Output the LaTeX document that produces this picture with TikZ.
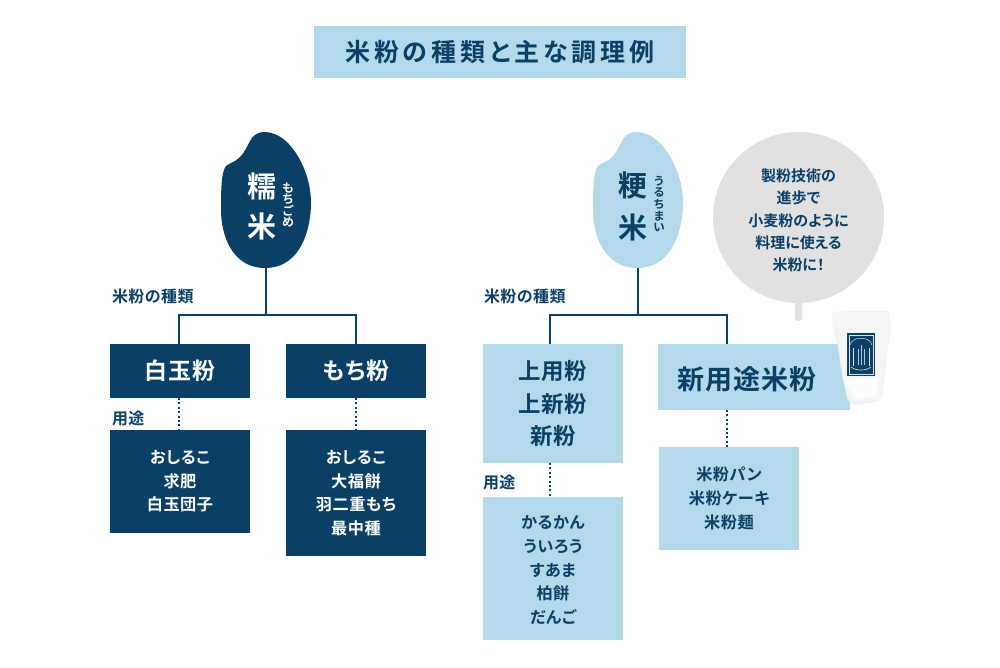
\documentclass[tikz,border=0pt]{standalone}
\usepackage{fontspec}
\setmainfont{Noto Sans CJK JP}[BoldFont=Noto Sans CJK JP Bold,RawFeature=+palt]
\newfontfamily\jpls[LetterSpace=3,RawFeature=+palt]{Noto Sans CJK JP Bold}
\newfontfamily\jpwide[LetterSpace=16,RawFeature=+palt]{Noto Sans CJK JP Bold}
\definecolor{navy}{HTML}{0B4066}
\definecolor{sky}{HTML}{B3D9EA}
\definecolor{bubble}{HTML}{E1E1E1}
\newcommand{\fs}[2]{\fontsize{#1}{#2}\selectfont}
\tikzset{
  x=1pt,y=-1pt,
  every node/.style={inner sep=0pt,outer sep=0pt,align=center},
  darkbox/.style={fill=navy,text=white,minimum width=140pt,font=\jpls},
  lightbox/.style={fill=sky,text=navy,minimum width=140pt,font=\jpls},
  label/.style={text=navy,font=\jpls\fs{16}{18}},
  treeline/.style={navy,line width=2pt},
  dotline/.style={navy,line width=2pt,dash pattern=on 2pt off 2.4pt},
  grainshape/.pic={\path[pic actions] (231,163)
     .. controls (243,158) and (246,148) .. (250,141)
     .. controls (253,135) and (258,132) .. (264,132)
     .. controls (280,132) and (292,145) .. (300,160)
     .. controls (308,175) and (311,190) .. (311,203)
     .. controls (311,225) and (303,268) .. (265,268)
     .. controls (232,268) and (221,235) .. (221,210)
     .. controls (221,195) and (221,178) .. (224,170)
     .. controls (225,166) and (228,164) .. (231,163) -- cycle;}
}
\begin{document}
\begin{tikzpicture}
\useasboundingbox (0,0) rectangle (1000,667);
% title
\node[fill=sky,text=navy,minimum width=372pt,minimum height=52pt,font=\jpwide\fs{25}{28}] (title) at (500,52) {米粉の種類と主な調理例};
% grains
\pic[fill=navy] at (0,0) {grainshape};
\pic[fill=sky] at (372,0) {grainshape};
\coordinate (mochi) at (266,268);
\coordinate (uru) at (638,268);
\node[text=white,font=\bfseries\fs{29}{40}] (mochiA) at (262,186) {糯};
\node[text=white,font=\bfseries\fs{29}{40}] (mochiB) at (262,226) {米};
\node[text=white,font=\bfseries\fs{12}{11.6}] (mochiR) at (288,205) {も\\ち\\ご\\め};
\node[text=navy,font=\bfseries\fs{29}{40}] (uruA) at (633,186) {粳};
\node[text=navy,font=\bfseries\fs{29}{40}] (uruB) at (633,227) {米};
\node[text=navy,font=\bfseries\fs{11.5}{11.6}] (uruR) at (659,204) {う\\る\\ち\\ま\\い};
% bubble
\fill[bubble,rounded corners=3pt] (795,295) rectangle (802,321);
\node[circle,fill=bubble,minimum size=171pt] (bub) at (798.5,217.5) {};
\node[text=navy,font=\bfseries\fs{15}{22.3}] (bubtext) at (798.5,220.5) {製粉技術の\\進歩で\\小麦粉のように\\料理に使える\\米粉に！};
% labels
\node[label,anchor=west] (kind1) at (112,296) {米粉の種類};
\node[label,anchor=west] (kind2) at (484,296) {米粉の種類};
\node[label,anchor=west] (use1) at (112,418) {用途};
\node[label,anchor=west] (use2) at (483,482) {用途};
% boxes
\node[darkbox,minimum height=54pt,font=\jpls\fs{23}{28}] (shira) at (180,371) {白玉粉};
\node[darkbox,minimum height=54pt,font=\jpls\fs{23}{28}] (mochiko) at (356,371) {もち粉};
\node[lightbox,minimum height=119pt,font=\jpls\fs{22.5}{32.6}] (joyo) at (553,403.5) {上用粉\\上新粉\\新粉};
\node[fill=sky,text=navy,minimum width=192pt,minimum height=66pt] (shinbox) at (754,377) {};
\node[text=navy,font=\jpls\fs{27}{30}] (shin) at (747,379) {新用途米粉};
\node[darkbox,minimum height=103pt,font=\jpls\fs{16.2}{23.6}] (u1) at (180,481.5) {おしるこ\\求肥\\白玉団子};
\node[darkbox,minimum height=126pt,font=\jpls\fs{16.2}{23.6}] (u2) at (356,493) {おしるこ\\大福餅\\羽二重もち\\最中種};
\node[lightbox,minimum height=143pt] (u3) at (553,568.5) {};
\node[text=navy,font=\jpls\fs{16.2}{23.6}] (u3text) at (553,570) {かるかん\\ういろう\\すあま\\柏餅\\だんご};
\node[lightbox,minimum height=103pt,font=\jpls\fs{16.2}{23.8}] (u4) at (729,498.5) {米粉パン\\米粉ケーキ\\米粉麺};
% connectors
\coordinate (j1) at (266,315);
\coordinate (j2) at (638,315);
\coordinate (t1) at (179,344);
\coordinate (t2) at (356,344);
\coordinate (t3) at (550,344);
\coordinate (t4) at (727,344);
\draw[treeline] (mochi) -- (j1);
\draw[treeline] (t1) -- (t1|-j1) -- (t2|-j1) -- (t2);
\draw[treeline] (uru) -- (j2);
\draw[treeline] (t3) -- (t3|-j2) -- (t4|-j2) -- (t4);
\draw[dotline] (t1|-shira.south) -- (t1|-u1.north);
\draw[dotline] (t2|-mochiko.south) -- (t2|-u2.north);
\draw[dotline] (t3|-joyo.south) -- (t3|-u3.north);
\draw[dotline] (t4|-shinbox.south) -- (t4|-u4.north);
% product bag
\fill[black!4,draw=black!7,line width=0.5pt,rounded corners=3pt]
  (832,312) -- (889,311) -- (890,330) -- (885,370) -- (882,395) -- (878,401) -- (853,405) -- (848,400) -- (842,375) -- (838,345) -- (833,325) -- cycle;
\fill[white,opacity=0.7,rounded corners=3pt] (845,380) -- (878,378) -- (876,396) -- (853,399) -- cycle;
\fill[navy] (847,333) rectangle (875,376);
\draw[white!85!navy,line width=0.4pt] (849,335) rectangle (873,374);
\draw[white!85!navy,line width=0.5pt] (850,345) .. controls (852,336) and (870,336) .. (872,345);
\draw[white!85!navy,line width=0.4pt] (853,348) -- (853,366) (869,348) -- (869,366);
\draw[white!70!navy,line width=0.8pt] (858,349) -- (858,365) (861,345) -- (861,365) (864,349) -- (864,365);
\draw[white!85!navy,line width=0.6pt] (851,367) .. controls (856,371) and (866,371) .. (871,367);
\end{tikzpicture}
\end{document}
